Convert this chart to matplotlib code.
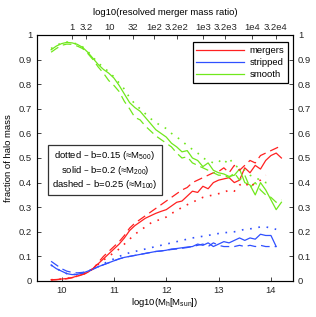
import matplotlib
matplotlib.use("Agg")
import matplotlib.pyplot as plt
import numpy as np

plt.rcParams['font.family'] = ['Liberation Sans', 'DejaVu Sans']
plt.rcParams['mathtext.default'] = 'regular'

nan = np.nan

# halo mass bins, log10(Mh [Msun])
logm = [9.8, 9.9, 10.0, 10.1, 10.2, 10.3, 10.4, 10.5, 10.6, 10.7,
        10.8, 10.9, 11.0, 11.1, 11.2, 11.3, 11.4, 11.5, 11.6, 11.7,
        11.8, 11.9, 12.0, 12.1, 12.2, 12.3, 12.4, 12.5, 12.6, 12.7,
        12.8, 12.9, 13.0, 13.1, 13.2, 13.3, 13.4, 13.5, 13.6, 13.7,
        13.8, 13.9, 14.0, 14.1, 14.2]

# mergers
merg_solid = [.005, .006, .008, .010, .014, .020, .027, .035, .050, .070,
              .090, .110, .130, .150, .175, .205, .225, .240, .255, .265,
              .275, .283, .290, .305, .320, .325, .345, .365, .360, .385,
              .375, .400, .410, .415, .420, .400, .410, .460, .440, .470,
              .455, .490, .510, .520, .500]
merg_dash = [.004, .005, .007, .009, .013, .019, .026, .034, .050, .075,
             .100, .120, .140, .160, .185, .215, .235, .250, .265, .280,
             .295, .310, .325, .340, .355, .370, .380, .400, .410, .420,
             .430, .440, .445, .460, .440, .470, .450, .470, .490, .480,
             .510, .520, .530, .540, .550]
merg_dot = [.005, .006, .008, .010, .014, .020, .027, .035, .050, .068,
            .085, .100, .115, .130, .150, .170, .190, .205, .220, .235,
            .245, .250, .260, .275, .285, .300, .310, .320, .330, .340,
            .345, .350, .355, .360, .370, .365, .390, .400, .380, .400,
            .410, .430, nan, nan, nan]

# stripped
strip_solid = [.065, .050, .040, .030, .026, .027, .032, .040, .048, .058,
               .066, .074, .082, .090, .096, .100, .104, .108, .112, .116,
               .120, .122, .125, .130, .132, .135, .138, .140, .150, .145,
               .155, .140, .150, .160, .155, .165, .175, .165, .175, .170,
               .190, .185, .185, .140, nan]
strip_dash = [.080, .065, .050, .040, .035, .033, .035, .040, .048, .058,
              .066, .074, .082, .090, .096, .100, .104, .108, .112, .116,
              .120, .122, .125, .128, .130, .133, .136, .140, .145, .150,
              .140, .155, .145, .140, .140, .140, .145, .140, .145, .140,
              .145, .140, .140, .140, nan]
strip_dot = [.065, .050, .040, .030, .026, .027, .032, .040, .048, .058,
             .070, .080, .090, .100, .108, .115, .120, .125, .130, .135,
             .140, .145, .150, .155, .160, .165, .170, .175, .178, .182,
             .185, .190, .193, .196, .198, .200, .205, .210, .212, .215,
             .220, .220, .215, .210, nan]

# smooth
smooth_solid = [.940, .955, .965, .970, .968, .962, .950, .930, .905, .880,
                .860, .845, .825, .795, .760, .725, .705, .690, .665, .640,
                .615, .600, .585, .560, .545, .525, .530, .500, .490, .465,
                .480, .450, .440, .435, .425, .430, .455, .400, .390, .350,
                .400, .370, .330, .290, .320]
smooth_dash = [.930, .945, .958, .963, .962, .955, .945, .925, .900, .870,
               .845, .815, .795, .770, .730, .700, .665, .655, .630, .610,
               .590, .575, .560, .545, .520, .500, .505, .480, .470, .460,
               .450, .440, .430, .430, .420, .440, .410, .430, .380, .400,
               .370, .350, .340, .320, .330]
smooth_dot = [.945, .958, .967, .971, .969, .963, .952, .933, .910, .885,
              .870, .850, .830, .805, .780, .745, .720, .700, .680, .660,
              .645, .630, .620, .600, .585, .570, .550, .535, .520, .500,
              .490, .480, .490, .475, .500, .470, .460, .450, .430, .420,
              .410, .400, .400, nan, nan]

ratio_labels = ['1', '3.2', '10', '32', '1e2', '3.2e2', '1e3', '3.2e3', '1e4', '3.2e4']
ratio_pos = [10.20, 10.47, 10.91, 11.36, 11.77, 12.20, 12.70, 13.13, 13.64, 14.09]

red = '#ff2020'
blue = '#3050ff'
green = '#70e81c'
dot = (0, (1, 4))
dash = (0, (7, 4))
fs = 6.8

fig = plt.figure(figsize=(3.16, 3.17), dpi=100)
ax = fig.add_axes([0.117, 0.1136, 0.81, 0.776])

lw = 0.9
ax.plot(logm, merg_solid, color=red, lw=lw, label='mergers')
ax.plot(logm, strip_solid, color=blue, lw=lw, label='stripped')
ax.plot(logm, smooth_solid, color=green, lw=lw, label='smooth')
ax.plot(logm, merg_dash, color=red, lw=lw, ls=dash)
ax.plot(logm, strip_dash, color=blue, lw=lw, ls=dash)
ax.plot(logm, smooth_dash, color=green, lw=lw, ls=dash)
ax.plot(logm, merg_dot, color=red, lw=1.2, ls=dot)
ax.plot(logm, strip_dot, color=blue, lw=1.2, ls=dot)
ax.plot(logm, smooth_dot, color=green, lw=1.2, ls=dot)

ax.set_xlim(9.53, 14.42)
ax.set_ylim(0, 1)
ax.set_xticks([10, 11, 12, 13, 14])
ax.set_yticks([0, 0.1, 0.2, 0.3, 0.4, 0.5, 0.6, 0.7, 0.8, 0.9, 1])
ax.set_yticklabels(['0', '0.1', '0.2', '0.3', '0.4', '0.5', '0.6', '0.7', '0.8', '0.9', '1'])
ax.tick_params(direction='in', length=3, labelsize=fs, right=True, labelright=True,
               width=0.6, colors='#262626')
for s in ax.spines.values():
    s.set_linewidth(0.8)
    s.set_color('#262626')
ax.set_xlabel(r'log10(M$_h$[M$_{sun}$])', fontsize=fs, labelpad=1)
ax.set_ylabel('fraction of halo mass', fontsize=fs, labelpad=4)

ax2 = ax.twiny()
ax2.set_xlim(ax.get_xlim())
ax2.set_xticks(ratio_pos)
ax2.set_xticklabels(ratio_labels)
ax2.tick_params(direction='in', length=3, labelsize=fs, width=0.6, colors='#262626', pad=2)
ax2.set_xlabel('log10(resolved merger mass ratio)', fontsize=fs, labelpad=6)

leg = ax.legend(loc='upper right', bbox_to_anchor=(0.98, 0.97), fontsize=fs,
                handlelength=5.0, fancybox=False, framealpha=1, borderpad=0.4,
                labelspacing=0.3, handletextpad=0.6, borderaxespad=0)
leg.get_frame().set_edgecolor('black')
leg.get_frame().set_linewidth(0.9)

ax.text(0.265, 0.45,
        'dotted \u2013 b=0.15 (\u2248M$_{500}$)\n'
        'solid \u2013 b=0.2 (\u2248M$_{200}$)\n'
        'dashed \u2013 b=0.25 (\u2248M$_{100}$)',
        transform=ax.transAxes, ha='center', va='center', fontsize=fs,
        linespacing=1.15,
        bbox=dict(boxstyle='square,pad=0.45', fc='white', ec='#333333', lw=0.9))

fig.savefig('out.png', dpi=100)
